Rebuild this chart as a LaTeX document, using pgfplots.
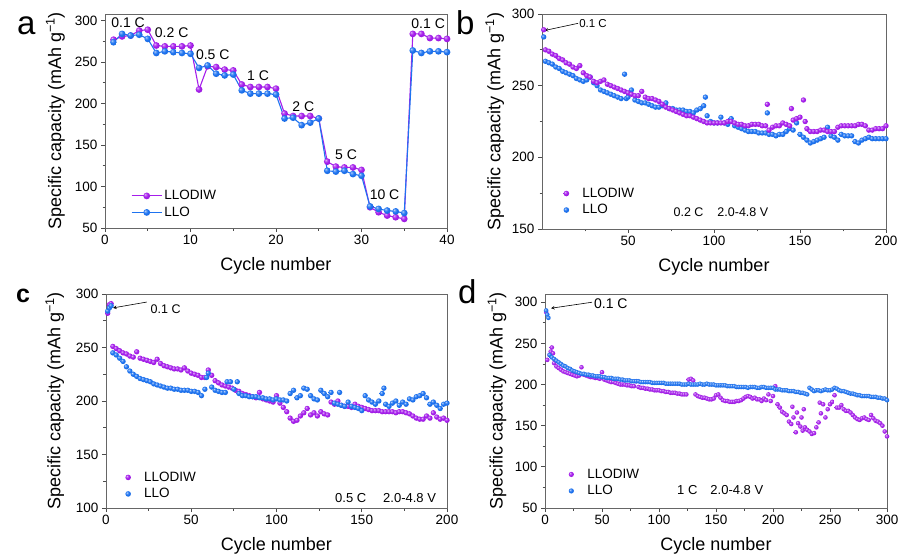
\documentclass[border=0pt]{standalone}
\usepackage{fontspec}
\setmainfont{Liberation Sans}
\usepackage{pgfplots}
\pgfplotsset{compat=1.18}
\definecolor{purp}{RGB}{165,30,235}
\definecolor{blu}{RGB}{30,115,240}
\pgfdeclareradialshading{purpball}{\pgfqpoint{-12bp}{12bp}}{color(0bp)=(purp!25!white); color(7bp)=(purp!70!white); color(17bp)=(purp); color(48bp)=(purp!85!black); color(70bp)=(purp!68!black)}
\pgfdeclareradialshading{bluball}{\pgfqpoint{-12bp}{12bp}}{color(0bp)=(blu!25!white); color(7bp)=(blu!70!white); color(17bp)=(blu); color(48bp)=(blu!85!black); color(70bp)=(blu!68!black)}
\pgfdeclareplotmark{pball}{\pgfpathcircle{\pgfpointorigin}{\pgfplotmarksize}\pgfshadepath{purpball}{0}\pgfusepath{}}
\pgfdeclareplotmark{bball}{\pgfpathcircle{\pgfpointorigin}{\pgfplotmarksize}\pgfshadepath{bluball}{0}\pgfusepath{}}
\pgfplotsset{
  panel/.style={
    scale only axis, width=342pt, height=214pt,
    axis line style={draw=black!60, line width=0.9pt},
    tick pos=left, tick align=outside,
    major tick length=4pt, minor tick length=2.5pt,
    every tick/.append style={black!70, line width=0.8pt},
    ticklabel style={font=\fontsize{13.5}{14}\selectfont},
    /pgf/number format/assume math mode=true,
    xlabel={Cycle number},
    ylabel={Specific capacity (mAh g\textsuperscript{−1})},
    label style={font=\fontsize{18}{20}\selectfont},
    xlabel style={at={(axis description cs:0.5,-0.178)}, anchor=center},
    ylabel style={at={(axis description cs:-0.145,0.5)}, anchor=center},
    legend style={draw=none, fill=none, font=\fontsize{13.5}{15}\selectfont, anchor=north west, inner sep=0pt, row sep=1pt,
      nodes={inner sep=2pt, text height=9.5pt, text depth=2pt}},
    legend cell align=left,
  },
  pdots/.style={only marks, mark=pball, mark size=#1},
  bdots/.style={only marks, mark=bball, mark size=#1},
  dotlegend/.style={legend image code/.code={\draw[##1] plot coordinates {(0pt,0pt)}; \path[draw=none, fill=none] (-8pt,0pt) -- (14pt,0pt);}},
}
\begin{document}
\begin{tikzpicture}
\useasboundingbox (0pt,0pt) rectangle (901pt,-556pt);
% ---------------- panel a
\begin{axis}[panel, at={(105pt,-14pt)}, anchor=north west,
  xmin=0, xmax=40, ymin=50, ymax=308,
  xtick={0,10,...,40}, minor xtick={5,15,25,35},
  ytick={50,100,...,300}, minor ytick={75,125,...,275},
  legend style={at={(0.076,0.187)}},
  legend image code/.code={\draw[#1, mark repeat=2, mark phase=2] plot coordinates {(0pt,0pt) (15pt,0pt) (30pt,0pt)};},
]
\addplot[color=purp, line width=1.1pt, mark=pball, mark size=3.4pt] coordinates {
(1,277)(2,281)(3,282)(4,288)(5,289)(6,270)(7,269)(8,269)(9,269)(10,270)
(11,217)(12,245)(13,244)(14,241)(15,240)(16,223)(17,220)(18,220)(19,220)(20,218)
(21,188)(22,185)(23,185)(24,185)(25,182)(26,130)(27,124)(28,123)(29,123)(30,120)
(31,75)(32,69)(33,65)(34,63)(35,61)(36,284)(37,284)(38,279)(39,279)(40,278)};
\addlegendentry{LLODIW}
\addplot[color=blu, line width=1.1pt, mark=bball, mark size=3.4pt] coordinates {
(1,274)(2,284)(3,282)(4,283)(5,278)(6,261)(7,263)(8,262)(9,261)(10,260)
(11,243)(12,246)(13,236)(14,234)(15,235)(16,216)(17,212)(18,212)(19,212)(20,211)
(21,182)(22,183)(23,174)(24,177)(25,182)(26,119)(27,118)(28,119)(29,115)(30,113)
(31,76)(32,73)(33,71)(34,70)(35,68)(36,264)(37,261)(38,263)(39,263)(40,262)};
\addlegendentry{LLO}
\begin{scope}[font=\fontsize{14}{14}\selectfont]
\node at (axis cs:2.7,297.5) {0.1 C};
\node at (axis cs:7.8,285.5) {0.2 C};
\node at (axis cs:12.6,259) {0.5 C};
\node at (axis cs:17.9,233.5) {1 C};
\node at (axis cs:23.2,196) {2 C};
\node at (axis cs:28.2,138) {5 C};
\node at (axis cs:32.7,90) {10 C};
\node at (axis cs:37.8,296) {0.1 C};
\end{scope}
\end{axis}
% ---------------- panel b
\begin{axis}[panel, at={(542pt,-14pt)}, anchor=north west, width=344pt, height=215pt,
  xmin=0, xmax=200, ymin=150, ymax=300,
  xtick={50,100,150,200}, minor xtick={25,75,125,175},
  ytick={150,200,250,300}, minor ytick={175,225,275},
  ylabel style={at={(axis description cs:-0.137,0.5)}},
  legend style={at={(0.047,0.202)}}, dotlegend,
]
\addlegendimage{pdots=2.8pt}
\addlegendentry{LLODIW}
\addlegendimage{bdots=2.8pt}
\addlegendentry{LLO}
\addplot[bdots=2.7pt, forget plot] coordinates {
(1,284)(2,267)(4,266)(6,265)(8,263)(10,262)(12,260)(14,259)(16,258)(18,257)(20,255)
(22,254)(24,253)(26,254)(28,256)(30,252)(32,250)(34,247)(36,246)(38,245)(40,244)
(42,243)(44,242)(46,241)(48,258)(49,241)(50,242)(52,247)(54,240)(56,239)(58,238)(60,238)
(62,237)(64,236)(66,235)(68,235)(70,236)(72,238)(74,234)(76,234)(78,233)(80,233)
(82,233)(84,232)(86,232)(88,231)(90,233)(92,234)(94,236)(95,242)(96,229)(98,225)(100,224)
(102,224)(104,228)(106,224)(108,223)(110,227)(112,222)(114,221)(116,220)(118,219)(120,218)
(122,218)(124,218)(126,217)(128,217)(130,217)(131,231)(132,216)(134,216)(136,215)(138,216)(140,216)
(142,218)(144,220)(146,219)(148,224)(150,216)(152,214)(154,212)(156,210)(158,211)(160,212)
(162,213)(164,214)(166,221)(168,215)(170,214)(172,212)(174,216)(176,215)(178,215)(180,215)
(182,211)(184,210)(186,212)(188,213)(190,214)(192,213)(194,213)(196,213)(198,213)(200,213)};
\addplot[pdots=2.7pt, forget plot] coordinates {
(1,289)(2,275)(4,274)(6,272)(8,271)(10,269)(12,268)(14,266)(16,265)(18,263)(20,262)
(22,264)(24,259)(26,257)(28,256)(30,253)(32,252)(34,253)(36,254)(38,251)(40,250)
(42,249)(44,248)(46,247)(48,246)(50,245)(52,244)(54,243)(56,243)(58,246)(60,242)
(62,241)(64,241)(66,240)(68,239)(70,237)(72,235)(74,234)(76,233)(78,232)(80,231)
(82,230)(84,229)(86,229)(88,228)(90,227)(92,226)(94,225)(96,224)(98,224)(100,224)
(102,224)(104,224)(106,224)(108,225)(110,225)(112,224)(114,223)(116,223)(118,222)(120,222)
(122,223)(124,223)(126,223)(128,222)(130,222)(131,237)(132,219)(134,221)(136,222)(138,222)(140,224)
(142,223)(144,222)(145,234)(146,226)(148,227)(150,228)(152,240)(153,225)(154,220)(156,218)(158,218)(160,218)
(162,219)(164,219)(166,218)(168,218)(170,218)(172,221)(174,222)(176,222)(178,222)(180,222)
(182,222)(184,223)(186,223)(188,222)(190,219)(192,219)(194,220)(196,220)(198,220)(200,222)};
\node[anchor=west, inner sep=1pt, font=\fontsize{11.5}{12}\selectfont] at (axis cs:21,293.5) {0.1 C};
\draw[-stealth, line width=0.6pt] (axis cs:21,293.5) -- (axis cs:1.5,288.5);
\node[anchor=west, inner sep=0pt, font=\fontsize{12.5}{13}\selectfont] at (axis cs:76.4,162) {0.2 C\hspace{14pt}2.0-4.8 V};
\end{axis}
% ---------------- panel c
\begin{axis}[panel, at={(106pt,-294pt)}, anchor=north west, width=341pt,
  xmin=0, xmax=200, ymin=100, ymax=300,
  xtick={0,50,...,200}, minor xtick={25,75,125,175},
  ytick={100,150,...,300}, minor ytick={125,175,225,275},
  ylabel style={at={(axis description cs:-0.150,0.5)}},
  legend style={at={(0.041,0.18)}}, dotlegend,
]
\addlegendimage{pdots=2.8pt}
\addlegendentry{LLODIW}
\addlegendimage{bdots=2.8pt}
\addlegendentry{LLO}
\addplot[pdots=2.7pt, forget plot] coordinates {
(1,282)(2,290)(3,291)(4,251)(6,249)(8,247)(10,245)(12,244)(14,242)(16,241)(18,246)(20,240)
(22,239)(24,238)(26,237)(28,236)(30,239)(32,235)(34,233)(36,232)(38,231)(40,230)
(42,230)(44,229)(46,231)(48,228)(50,226)(52,225)(54,224)(56,222)(58,222)(60,229)
(62,224)(64,219)(66,217)(68,215)(70,214)(72,213)(74,212)(76,210)(78,209)(80,207)
(82,206)(84,205)(86,204)(88,203)(90,208)(92,202)(94,201)(96,200)(98,199)(100,205)
(102,198)(104,194)(106,190)(108,184)(110,181)(112,182)(114,186)(116,189)(118,193)(120,187)
(122,189)(124,186)(126,190)(128,188)(130,187)(132,199)(134,197)(136,200)(138,196)(140,195)
(142,195)(144,194)(146,197)(148,195)(150,194)(152,193)(154,192)(156,191)(158,191)(160,191)
(162,190)(164,190)(166,190)(168,190)(170,189)(172,190)(174,190)(176,189)(178,188)(180,186)
(182,184)(184,183)(186,183)(188,186)(190,184)(192,189)(194,185)(196,183)(198,184)(200,182)};
\addplot[bdots=2.7pt, forget plot] coordinates {
(1,284)(2,287)(3,289)(4,245)(6,243)(8,240)(10,237)(12,232)(14,228)(16,225)(18,223)(20,221)
(22,220)(24,219)(26,218)(28,216)(30,215)(32,214)(34,213)(36,212)(38,212)(40,211)
(42,211)(44,210)(46,210)(48,210)(50,209)(52,209)(54,208)(56,205)(58,211)(59,222)(60,226)
(62,213)(64,210)(66,209)(68,208)(70,208)(71,218)(73,218)(75,211)(77,218)(78,207)(80,205)
(82,205)(84,204)(86,204)(88,204)(90,203)(92,203)(94,202)(96,202)(98,201)(100,202)
(102,201)(104,201)(106,200)(108,207)(110,210)(112,203)(114,205)(116,212)(118,211)(120,205)
(122,202)(124,201)(126,210)(128,207)(130,204)(132,208)(134,198)(136,197)(137,208)(138,196)(140,195)
(142,199)(144,195)(146,194)(148,193)(150,191)(152,205)(154,201)(156,199)(158,197)(160,200)
(162,207)(163,212)(164,197)(166,195)(168,198)(170,200)(172,196)(174,199)(176,197)(178,202)(180,201)
(182,204)(184,205)(186,207)(188,203)(190,197)(192,199)(194,196)(196,193)(198,197)(200,198)};
\node[anchor=west, inner sep=1pt, font=\fontsize{12.5}{13}\selectfont] at (axis cs:25.5,286) {0.1 C};
\draw[-stealth, line width=0.6pt] (axis cs:24,292.5) -- (axis cs:4.1,287);
\node[anchor=west, inner sep=0pt, font=\fontsize{13}{13}\selectfont] at (axis cs:134.3,109.5) {0.5 C\hspace{17pt}2.0-4.8 V};
\end{axis}
% ---------------- panel d
\begin{axis}[panel, at={(545pt,-294pt)}, anchor=north west,
  xmin=0, xmax=300, ymin=50, ymax=310,
  xtick={0,50,...,300}, minor xtick={25,75,...,275},
  ytick={50,100,...,300}, minor ytick={75,125,...,275},
  ylabel style={at={(axis description cs:-0.140,0.5)}},
  legend style={at={(0.053,0.194)}}, dotlegend,
]
\addlegendimage{pdots=2.6pt}
\addlegendentry{LLODIW}
\addlegendimage{bdots=2.6pt}
\addlegendentry{LLO}
\addplot[pdots=2.3pt, forget plot] coordinates {
(1,288)(2,230)(4,236)(5,240)(6,245)(7,238)(8,226)(10,222)(12,220)(14,218)(16,216)(18,215)(20,214)
(22,213)(24,212)(26,211)(28,210)(30,211)(32,221)(34,212)(36,211)(38,210)(40,209)
(42,209)(44,208)(46,208)(48,207)(50,215)(52,206)(54,205)(56,204)(58,203)(60,203)
(62,202)(64,201)(66,200)(68,200)(70,200)(72,199)(74,199)(76,198)(78,198)(80,204)
(82,197)(84,196)(86,196)(88,195)(90,195)(92,194)(94,194)(96,193)(98,193)(100,193)
(102,192)(104,192)(106,191)(108,191)(110,190)(112,190)(114,190)(116,189)(118,189)(120,188)
(122,188)(124,188)(126,206)(128,207)(130,205)(132,188)(134,186)(136,185)(138,184)(140,184)
(142,183)(144,182)(146,182)(148,183)(150,187)(152,188)(154,184)(156,181)(158,180)(160,180)
(162,179)(164,179)(166,179)(168,180)(170,180)(172,181)(174,183)(176,185)(178,186)(180,185)
(182,183)(184,184)(186,182)(188,182)(190,180)(192,183)(194,181)(196,188)(198,180)(200,186)
(202,198)(204,176)(206,172)(208,167)(210,165)(212,163)(214,155)(216,152)(217,173)(218,160)(220,142)
(221,166)(222,153)(224,149)(225,160)(226,144)(227,170)(228,148)(230,145)(232,143)(234,140)(236,141)(238,148)(240,154)
(241,178)(242,165)(244,176)(246,160)(248,170)(250,176)(252,179)(254,187)(256,172)(258,172)(260,175)
(262,170)(264,168)(266,168)(268,166)(270,163)(272,160)(274,158)(276,157)(278,159)(280,160)
(282,158)(284,157)(286,163)(288,159)(290,156)(292,155)(294,153)(296,150)(298,143)(300,137)};
\addplot[bdots=2.3pt, forget plot] coordinates {
(1,290)(2,285)(3,281)(4,236)(6,233)(8,231)(10,229)(12,227)(14,225)(16,223)(18,222)(20,220)
(22,219)(24,217)(26,216)(28,215)(30,214)(32,213)(34,213)(36,212)(38,212)(40,211)
(42,211)(44,210)(46,210)(48,210)(50,209)(52,209)(54,208)(56,208)(58,208)(60,207)
(62,207)(64,207)(66,206)(68,206)(70,205)(72,205)(74,205)(76,204)(78,204)(80,204)
(82,204)(84,203)(86,203)(88,203)(90,203)(92,203)(94,202)(96,202)(98,202)(100,202)
(102,202)(104,202)(106,201)(108,201)(110,201)(112,201)(114,201)(116,201)(118,201)(120,200)
(122,200)(124,200)(126,201)(128,200)(130,200)(132,200)(134,200)(136,201)(138,200)(140,200)
(142,201)(144,200)(146,200)(148,200)(150,199)(152,199)(154,199)(156,199)(158,199)(160,198)
(162,198)(164,198)(166,198)(168,197)(170,197)(172,197)(174,197)(176,197)(178,196)(180,197)
(182,197)(184,197)(186,196)(188,196)(190,197)(192,197)(194,196)(196,196)(198,196)(200,196)
(202,194)(204,194)(206,194)(208,193)(210,193)(212,193)(214,192)(216,192)(218,192)(220,191)
(222,191)(224,190)(226,190)(228,189)(230,188)(232,196)(234,194)(236,192)(238,193)(240,193)
(242,192)(244,193)(246,194)(248,193)(250,193)(252,194)(254,196)(256,195)(258,193)(260,192)
(262,192)(264,191)(266,190)(268,189)(270,189)(272,188)(274,187)(276,187)(278,186)(280,186)
(282,186)(284,186)(286,185)(288,185)(290,185)(292,184)(294,184)(296,183)(298,183)(300,181)};
\node[anchor=west, inner sep=1pt, font=\fontsize{14}{14}\selectfont] at (axis cs:42,298.8) {0.1 C};
\draw[-stealth, line width=0.6pt] (axis cs:41.2,300) -- (axis cs:5.3,292.7);
\node[anchor=west, inner sep=0pt, font=\fontsize{13}{13}\selectfont] at (axis cs:115.8,72) {1 C\hspace{13pt}2.0-4.8 V};
\end{axis}
% ---------------- panel letters
\node[anchor=base west, inner sep=0pt, font=\fontsize{33}{33}\selectfont] at (17pt,-35pt) {a};
\node[anchor=base west, inner sep=0pt, font=\fontsize{33}{33}\selectfont] at (456pt,-35pt) {b};
\node[anchor=base west, inner sep=0pt, font=\fontsize{25}{25}\selectfont\bfseries] at (16pt,-302pt) {c};
\node[anchor=base west, inner sep=0pt, font=\fontsize{33}{33}\selectfont] at (458pt,-303pt) {d};
\end{tikzpicture}
\end{document}
